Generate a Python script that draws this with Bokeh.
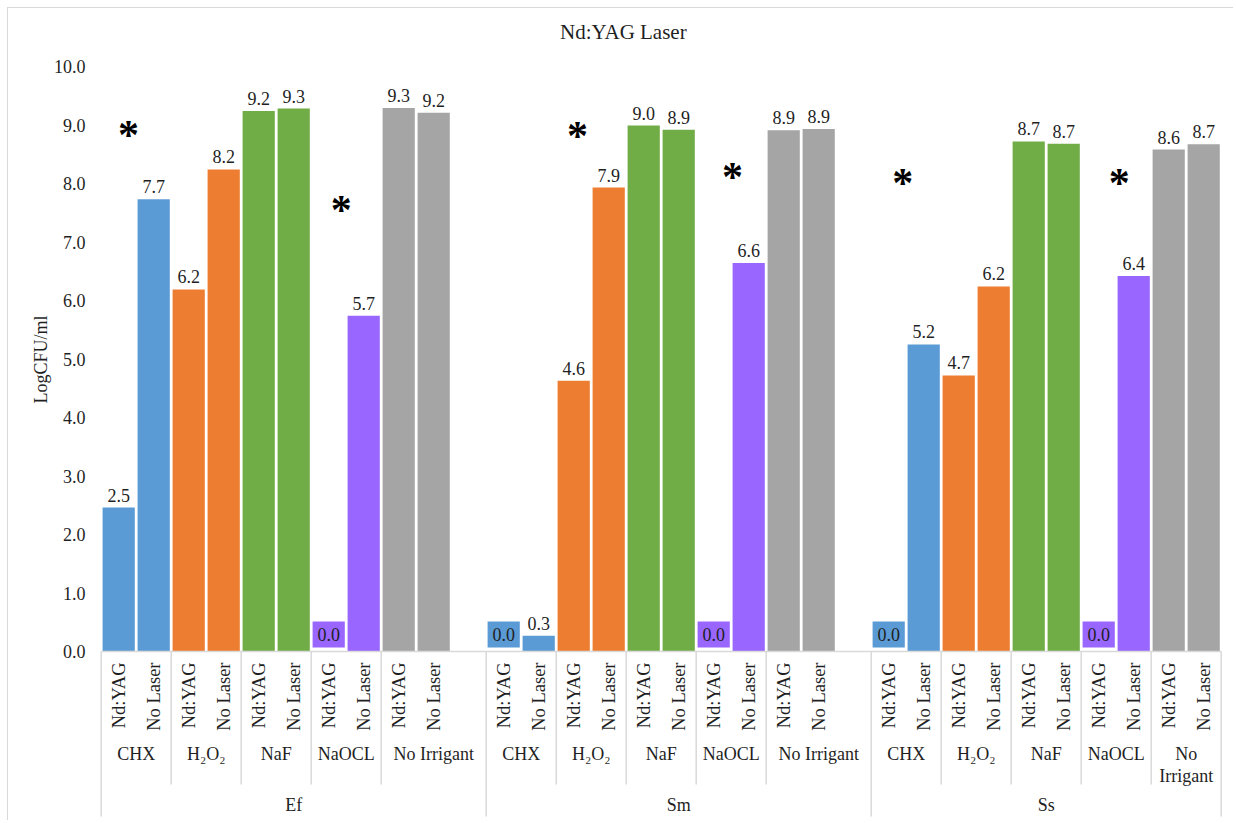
import math
from bokeh.plotting import figure
from bokeh.models import FixedTicker, PrintfTickFormatter, Title, Range1d
from bokeh.core.properties import value
from bokeh.embed import file_html
from bokeh.resources import INLINE

# ---------------- data ----------------
title_text = "Nd:YAG Laser"
y_axis_title = "LogCFU/ml"
groups = ["Ef", "Sm", "Ss"]
irrigants = ["CHX", "H₂O₂", "NaF", "NaOCL", "No Irrigant"]
lasers = ["Nd:YAG", "No Laser"]
irrigant_colors = ["#5B9BD5", "#ED7D31", "#70AD47", "#9966FF", "#A5A5A5"]
# order: CHX(Nd, No), H2O2(Nd, No), NaF(Nd, No), NaOCL(Nd, No), No Irrigant(Nd, No)
ef_values = [2.46, 7.73, 6.19, 8.24, 9.24, 9.28, 0.0, 5.74, 9.29, 9.21]
sm_values = [0.0, 0.27, 4.63, 7.93, 8.99, 8.92, 0.0, 6.64, 8.91, 8.93]
ss_values = [0.0, 5.25, 4.72, 6.24, 8.72, 8.68, 0.0, 6.42, 8.58, 8.67]
group_values = [ef_values, sm_values, ss_values]
blank_slots_after = [1, 1, 0]   # empty category slot at the end of a group
y_ticks = [0, 1, 2, 3, 4, 5, 6, 7, 8, 9, 10]
# significance asterisks (slot units, LogCFU/ml)
star_x = [0.78, 6.86, 13.61, 18.04, 22.9, 29.09]
star_y = [8.92, 7.64, 8.89, 8.2, 8.1, 8.1]

# ---------------- layout ----------------
W, H = 1226, 813
MB_LEFT, MB_RIGHT = 85, 1
SLOT_PX = 35.0
PPU = 58.5                 # pixels per LogCFU unit
X0_PX = 7.7                # data x=0 from frame left
BASE_PX = 643.0            # baseline from frame top
FRAME_W = W - MB_LEFT - MB_RIGHT
x_start = -X0_PX / SLOT_PX
x_end = x_start + FRAME_W / SLOT_PX
y_end = BASE_PX / PPU
y_start = y_end - H / PPU


def ydown(px):
    """data y for a point px pixels below the baseline"""
    return -px / PPU


FONT_NAME = "'Liberation Serif', 'Times New Roman', serif"
FONT = value(FONT_NAME)
FS = "18px"
TXT = "#1f1f1f"
GRID = "#d9d9d9"

p = figure(width=W, height=H, output_backend="svg", toolbar_location=None,
           x_axis_type=None, x_range=Range1d(x_start, x_end),
           y_range=Range1d(y_start, y_end),
           min_border_left=MB_LEFT, min_border_right=MB_RIGHT,
           min_border_top=0, min_border_bottom=0)
p.styles = {"border-top": "1px solid #d9d9d9", "border-left": "1px solid #d9d9d9",
            "margin-left": "7px", "margin-top": "7px"}
p.outline_line_color = None
p.ygrid.grid_line_color = None
p.background_fill_color = "white"

yax = p.yaxis[0]
yax.ticker = FixedTicker(ticks=y_ticks)
yax.formatter = PrintfTickFormatter(format="%.1f")
yax.axis_line_color = None
yax.major_tick_line_color = None
yax.minor_tick_line_color = None
yax.major_label_standoff = 2
yax.major_label_text_font = FONT_NAME
yax.major_label_text_font_size = FS
yax.major_label_text_color = TXT

# y axis title: starts (bottom end) 418 px above the frame bottom
p.add_layout(Title(text=y_axis_title, align="left", offset=418, standoff=0,
                   text_font=FONT_NAME, text_font_size=FS,
                   text_font_style="normal", text_color=TXT), "left")

# ---------------- build slots ----------------
bx, bv, bc, blas = [], [], [], []
irr_cx, irr_lab = [], []
sub_div = []
grp_div, grp_cx = [], []
pos = 0
for gi, vals in enumerate(group_values):
    gstart = pos
    grp_div.append(gstart)
    for ii, irr in enumerate(irrigants):
        istart = pos
        if ii > 0:
            sub_div.append(istart)
        for li, las in enumerate(lasers):
            bx.append(pos + 0.5)
            bv.append(vals[ii * 2 + li])
            bc.append(irrigant_colors[ii])
            blas.append(las)
            pos += 1
        if ii == len(irrigants) - 1:
            pos += blank_slots_after[gi]
        irr_cx.append((istart + pos) / 2)
        irr_lab.append(irr if (pos - istart) > 2 else irr.replace(" ", "\n"))
    grp_cx.append((gstart + pos) / 2)
grp_div.append(pos)
n_slots = pos

# bars
p.vbar(x=bx, top=bv, bottom=0, width=0.92, fill_color=bc, line_color=None)

# value labels (non-zero)
nz = [i for i, v in enumerate(bv) if v > 0.05]
p.text(x=[bx[i] for i in nz], y=[bv[i] for i in nz],
       text=[f"{bv[i]:.1f}" for i in nz], text_font=FONT,
       text_font_size=FS, text_color=TXT, text_align="center",
       text_baseline="bottom", y_offset=-6)
# zero labels in a coloured box
zz = [i for i, v in enumerate(bv) if v <= 0.05]
box_y = (4 + 13) / PPU
p.rect(x=[bx[i] for i in zz], y=[box_y] * len(zz), width=0.92, height=26,
       height_units="screen", fill_color=[bc[i] for i in zz], line_color=None)
p.text(x=[bx[i] for i in zz], y=[box_y] * len(zz),
       text=[f"{bv[i]:.1f}" for i in zz], text_font=FONT,
       text_font_size=FS, text_color=TXT, text_align="center",
       text_baseline="middle")

# category axis: baseline and dividers
p.segment(x0=[0], y0=[0], x1=[n_slots], y1=[0], line_color=GRID, line_width=1.5)
p.segment(x0=grp_div, y0=[0] * len(grp_div), x1=grp_div,
          y1=[ydown(165)] * len(grp_div), line_color=GRID, line_width=1.5)
p.segment(x0=sub_div, y0=[0] * len(sub_div), x1=sub_div,
          y1=[ydown(133)] * len(sub_div), line_color=GRID, line_width=1.5)

# rotated laser labels
p.text(x=bx, y=[ydown(11)] * len(bx), text=blas, angle=math.pi / 2,
       text_font=FONT, text_font_size="18.5px", text_color=TXT,
       text_align="right", text_baseline="middle")
# irrigant labels
p.text(x=irr_cx, y=[ydown(92)] * len(irr_cx), text=irr_lab, text_font=FONT,
       text_font_size=FS, text_color=TXT, text_align="center",
       text_baseline="top", text_line_height=1.1)
# group labels
p.text(x=grp_cx, y=[ydown(153)] * len(grp_cx), text=groups, text_font=FONT,
       text_font_size=FS, text_color=TXT, text_align="center",
       text_baseline="middle")

# title
p.text(x=[14.92], y=[ydown(-620)], text=[title_text], text_font=FONT,
       text_font_size="21px", text_color=TXT, text_align="center",
       text_baseline="middle")

# asterisks
p.text(x=star_x, y=star_y, text=["*"] * len(star_x), text_font=FONT,
       text_font_size="42px", text_font_style="bold", text_color="#000000",
       text_align="center", text_baseline="middle", y_offset=5)

open("out.html", "w").write(file_html(p, INLINE))
